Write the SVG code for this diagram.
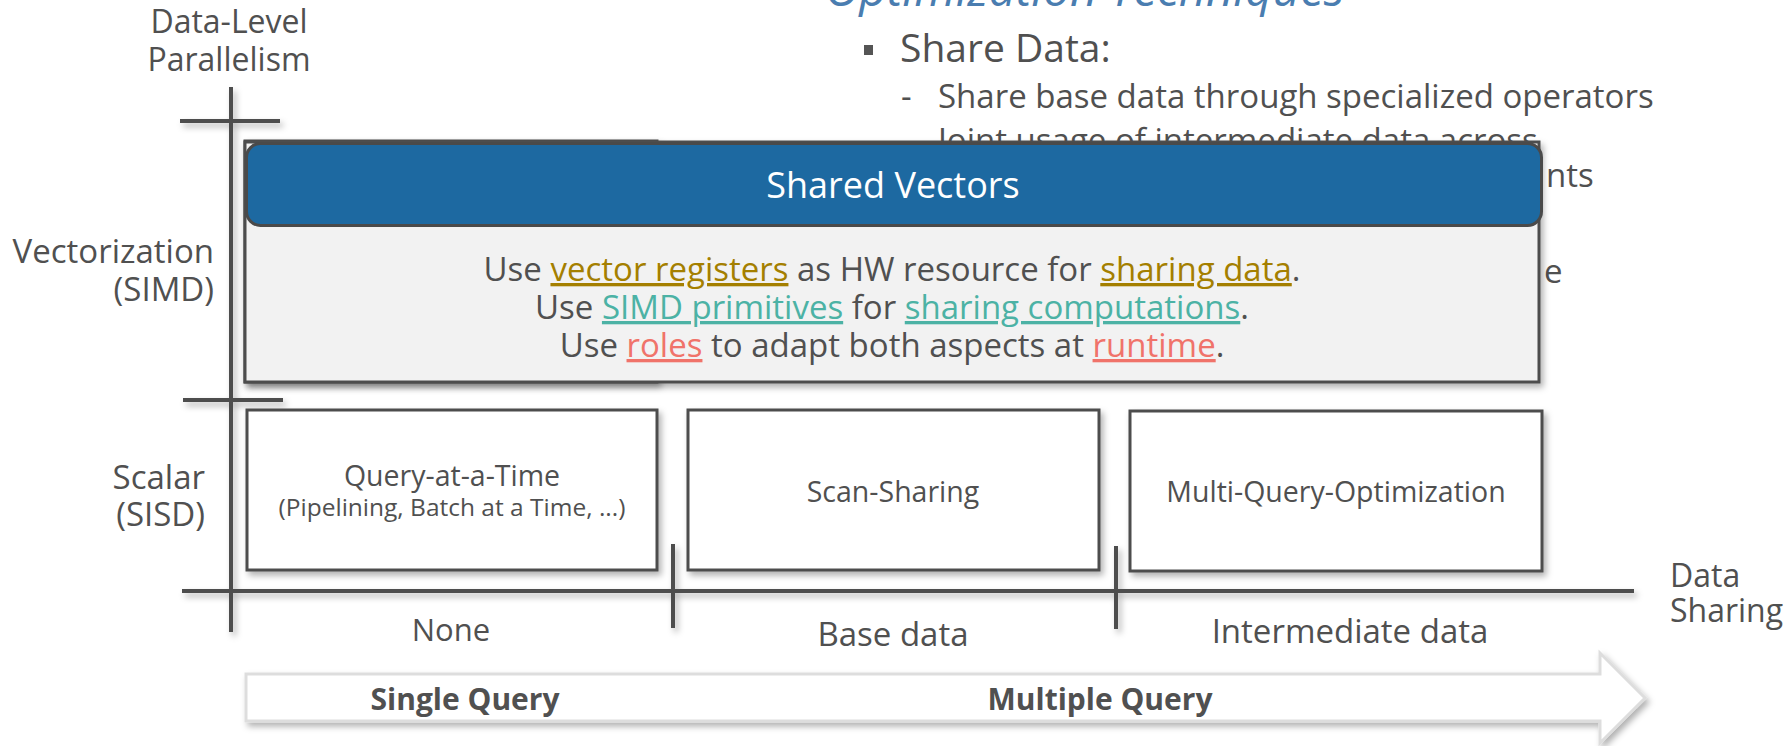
<svg xmlns="http://www.w3.org/2000/svg" width="1789" height="746" viewBox="0 0 1789 746">
<defs>
<filter id="sh" x="-10%" y="-10%" width="125%" height="140%">
<feDropShadow dx="3" dy="4" stdDeviation="3" flood-color="#000" flood-opacity="0.3"/>
</filter>
<filter id="shl" x="-5%" y="-50%" width="110%" height="300%">
<feDropShadow dx="3" dy="4" stdDeviation="3" flood-color="#000" flood-opacity="0.3"/>
</filter>
</defs>
<style>
text{font-family:"Open Sans","Liberation Sans",sans-serif;fill:#505050;}
.t33{font-size:33px;}
.c{text-anchor:middle;}
.e{text-anchor:end;}
.box{fill:#ffffff;stroke:#4d4d4d;stroke-width:3;}
.ax{stroke:#4d4d4d;stroke-width:4;fill:none;}
.gold{fill:#a47f00;text-decoration:underline;}
.teal{fill:#4cb2a5;text-decoration:underline;}
.red{fill:#f0736a;text-decoration:underline;}
.b{font-weight:bold;font-size:30px;}
</style>

<g id="background-text">
<text x="825" y="6" style="font-size:47.5px;font-style:italic;fill:#4a7db0">Optimization Techniques</text>
<rect x="864" y="45" width="9" height="10" fill="#555"/>
<text x="900" y="62" style="font-size:39px">Share Data:</text>
<text x="901" y="108" class="t33">-</text>
<text x="938" y="108" class="t33">Share base data through specialized operators</text>
<text x="938" y="152" class="t33">Joint usage of intermediate data across</text>
<text x="1546" y="187" class="t33">nts</text>
<text x="1544" y="283" class="t33">e</text>
</g>

<g id="axis-labels">
<text x="229" y="33" class="c" style="font-size:32px">Data-Level</text>
<text x="229" y="71" class="c" style="font-size:32px">Parallelism</text>
<text x="214" y="263" class="e t33">Vectorization</text>
<text x="214" y="301" class="e t33">(SIMD)</text>
<text x="205" y="489" class="e t33">Scalar</text>
<text x="205" y="526" class="e t33">(SISD)</text>
<text x="451" y="641" class="c" style="font-size:31px">None</text>
<text x="893" y="646" class="c t33">Base data</text>
<text x="1350" y="643" class="c t33">Intermediate data</text>
<text x="1670" y="587" style="font-size:32px">Data</text>
<text x="1670" y="622" style="font-size:32px">Sharing</text>
</g>

<g id="connectors" filter="url(#shl)">
<line class="ax" x1="231" y1="87" x2="231" y2="632"/>
<line class="ax" x1="180" y1="121" x2="280" y2="121"/>
<line class="ax" x1="183" y1="400" x2="283" y2="400"/>
<line class="ax" x1="182" y1="591" x2="1634" y2="591"/>
<line class="ax" x1="673" y1="544" x2="673" y2="628"/>
<line class="ax" x1="1116" y1="546" x2="1116" y2="629"/>
</g>

<g id="hidden-simd-box">
<rect class="box" x="245" y="141" width="412" height="241" filter="url(#sh)"/>
</g>

<g id="shared-vectors">
<rect x="245" y="142" width="1294" height="240" fill="#f2f2f2" stroke="#4d4d4d" stroke-width="3" filter="url(#sh)"/>
<rect x="246.5" y="143.5" width="1295" height="82" rx="14" ry="14" fill="#1d69a1" stroke="#4a4a4a" stroke-width="3"/>
<text x="893" y="198" class="c" style="font-size:36px;fill:#ffffff">Shared Vectors</text>
<text x="892" y="281" class="c t33">Use <tspan class="gold">vector registers</tspan> as HW resource for <tspan class="gold">sharing data</tspan>.</text>
<text x="892" y="319" class="c t33">Use <tspan class="teal">SIMD primitives</tspan> for <tspan class="teal">sharing computations</tspan>.</text>
<text x="892" y="357" class="c t33">Use <tspan class="red">roles</tspan> to adapt both aspects at <tspan class="red">runtime</tspan>.</text>
</g>

<g id="query-at-a-time">
<rect class="box" x="247" y="410" width="410" height="160" filter="url(#sh)"/>
<text x="452" y="486" class="c" style="font-size:28.5px">Query-at-a-Time</text>
<text x="452" y="516" class="c" style="font-size:24.5px">(Pipelining, Batch at a Time, ...)</text>
</g>

<g id="scan-sharing">
<rect class="box" x="688" y="410" width="411" height="160" filter="url(#sh)"/>
<text x="893" y="502" class="c" style="font-size:28.5px">Scan-Sharing</text>
</g>

<g id="multi-query-optimization">
<rect class="box" x="1130" y="411" width="412" height="160" filter="url(#sh)"/>
<text x="1336" y="502" class="c" style="font-size:28.5px">Multi-Query-Optimization</text>
</g>

<g id="query-arrow">
<polygon points="246,674 1600,674 1600,653 1645,698 1600,743 1600,721 246,721" fill="#ffffff" stroke="#dddddd" stroke-width="3" filter="url(#sh)"/>
<text x="465" y="710" class="c b">Single Query</text>
<text x="1100" y="710" class="c b">Multiple Query</text>
</g>
</svg>
